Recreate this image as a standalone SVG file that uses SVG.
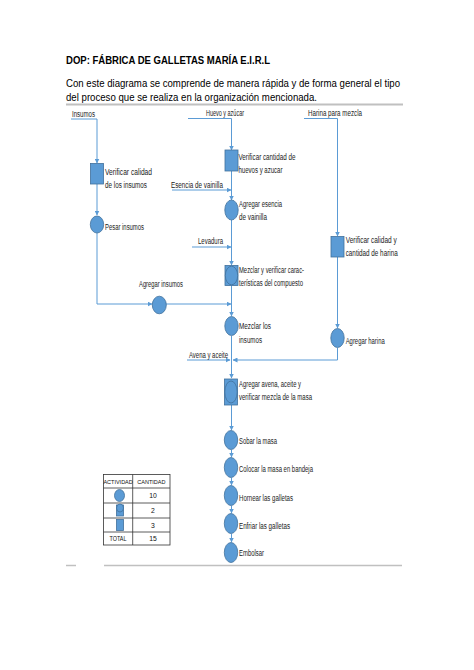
<svg xmlns="http://www.w3.org/2000/svg" width="474" height="670" viewBox="0 0 474 670">
<style>
.t{font-family:"Liberation Sans",Arial,sans-serif;fill:#000}
.l{font-family:"Liberation Sans",Arial,sans-serif;font-size:8.3px;fill:#1a1a1a}
.c{fill:none;stroke:#5b9bd5;stroke-width:1}
.op{fill:#5b9bd5;stroke:#41719c;stroke-width:0.8}
.tb{fill:none;stroke:#333;stroke-width:0.8}
.th{font-family:"Liberation Sans",Arial,sans-serif;font-size:6.8px;fill:#111}
.hd{font-family:"Liberation Sans",Arial,sans-serif;font-size:5.5px;fill:#111}
</style>
<defs>
<marker id="ar" markerUnits="userSpaceOnUse" markerWidth="5" markerHeight="5" refX="4.5" refY="2.5" orient="auto">
<path d="M0,0 L5,2.5 L0,5 z" fill="#5b9bd5"/>
</marker>
</defs>
<rect width="474" height="670" fill="#fff"/>
<text class="t" x="66" y="64" font-size="11.5" font-weight="bold" textLength="204" lengthAdjust="spacingAndGlyphs">DOP: FÁBRICA DE GALLETAS MARÍA E.I.R.L</text>
<text class="t" x="66" y="87" font-size="11" textLength="334" lengthAdjust="spacingAndGlyphs">Con este diagrama se comprende de manera rápida y de forma general el tipo</text>
<text class="t" x="66" y="100.5" font-size="11" textLength="251" lengthAdjust="spacingAndGlyphs">del proceso que se realiza en la organización mencionada.</text>
<line x1="66" y1="104.5" x2="403" y2="104.5" stroke="#c0c0c0" stroke-width="2"/>
<line x1="104" y1="565.5" x2="402" y2="565.5" stroke="#c0c0c0" stroke-width="1.5"/>
<line x1="66" y1="565.5" x2="76" y2="565.5" stroke="#c0c0c0" stroke-width="1.5"/>

<g id="connectors">
<path class="c" d="M71,119 H97 V163" marker-end="url(#ar)"/>
<path class="c" d="M97,184 V215" marker-end="url(#ar)"/>
<path class="c" d="M97,233 V304 H152" marker-end="url(#ar)"/>
<path class="c" d="M166,304 H231" marker-end="url(#ar)"/>
<path class="c" d="M188,118.5 H231.5 V150" marker-end="url(#ar)"/>
<path class="c" d="M231.5,171 V200" marker-end="url(#ar)"/>
<path class="c" d="M172,190 H231" marker-end="url(#ar)"/>
<path class="c" d="M231.5,220 V265" marker-end="url(#ar)"/>
<path class="c" d="M192,247 H231" marker-end="url(#ar)"/>
<path class="c" d="M231.5,286 V316" marker-end="url(#ar)"/>
<path class="c" d="M231.5,336 V378" marker-end="url(#ar)"/>
<path class="c" d="M187,360 H230" marker-end="url(#ar)"/>
<path class="c" d="M304,118.5 H337.5 V236" marker-end="url(#ar)"/>
<path class="c" d="M337.5,257 V328" marker-end="url(#ar)"/>
<path class="c" d="M337.5,348 V360 H233" marker-end="url(#ar)"/>
<path class="c" d="M231.5,405 V430" marker-end="url(#ar)"/>
<path class="c" d="M231.5,450 V457" marker-end="url(#ar)"/>
<path class="c" d="M231.5,478 V485" marker-end="url(#ar)"/>
<path class="c" d="M231.5,506 V513" marker-end="url(#ar)"/>
<path class="c" d="M231.5,534 V542" marker-end="url(#ar)"/>
</g>

<g id="in-insumos"><text class="l" x="72" y="117" textLength="23" lengthAdjust="spacingAndGlyphs">Insumos</text></g>
<g id="in-huevo"><text class="l" x="206" y="116" textLength="38" lengthAdjust="spacingAndGlyphs">Huevo y azúcar</text></g>
<g id="in-harina"><text class="l" x="308" y="116" textLength="54" lengthAdjust="spacingAndGlyphs">Harina para mezcla</text></g>
<g id="in-esencia"><text class="l" x="171" y="188" textLength="52" lengthAdjust="spacingAndGlyphs">Esencia de vainilla</text></g>
<g id="in-levadura"><text class="l" x="198" y="244" textLength="25" lengthAdjust="spacingAndGlyphs">Levadura</text></g>
<g id="in-avena"><text class="l" x="189" y="357.5" textLength="39" lengthAdjust="spacingAndGlyphs">Avena y aceite</text></g>

<g id="n1"><rect class="op" x="90.5" y="163.5" width="13" height="20.5"/>
<text class="l" x="105" y="175" textLength="47" lengthAdjust="spacingAndGlyphs">Verificar calidad</text>
<text class="l" x="105" y="187.5" textLength="42" lengthAdjust="spacingAndGlyphs">de los insumos</text></g>
<g id="n2"><ellipse class="op" cx="97" cy="224.5" rx="6.7" ry="8.5"/>
<text class="l" x="105" y="229.5" textLength="39" lengthAdjust="spacingAndGlyphs">Pesar insumos</text></g>
<g id="n3"><ellipse class="op" cx="159.3" cy="305" rx="7" ry="8.8"/>
<text class="l" x="139" y="287" textLength="44" lengthAdjust="spacingAndGlyphs">Agregar insumos</text></g>
<g id="n4"><rect class="op" x="225" y="150" width="13" height="21"/>
<text class="l" x="238.5" y="160" textLength="57" lengthAdjust="spacingAndGlyphs">Verificar cantidad de</text>
<text class="l" x="238.5" y="173" textLength="44" lengthAdjust="spacingAndGlyphs">huevos y azucar</text></g>
<g id="n5"><ellipse class="op" cx="231.5" cy="210" rx="6.7" ry="10"/>
<text class="l" x="239" y="207" textLength="43" lengthAdjust="spacingAndGlyphs">Agregar esencia</text>
<text class="l" x="239" y="220" textLength="28" lengthAdjust="spacingAndGlyphs">de vainilla</text></g>
<g id="n6"><rect class="op" x="225" y="265.5" width="13" height="20"/><ellipse class="op" cx="231.5" cy="275.5" rx="6.2" ry="9.3"/>
<text class="l" x="239" y="273" textLength="65" lengthAdjust="spacingAndGlyphs">Mezclar y verificar carac-</text>
<text class="l" x="239" y="286" textLength="64" lengthAdjust="spacingAndGlyphs">terísticas del compuesto</text></g>
<g id="n7"><ellipse class="op" cx="231.5" cy="326" rx="6.7" ry="9.5"/>
<text class="l" x="239" y="329" textLength="32" lengthAdjust="spacingAndGlyphs">Mezclar  los</text>
<text class="l" x="239" y="343" textLength="23" lengthAdjust="spacingAndGlyphs">insumos</text></g>
<g id="n8"><rect class="op" x="331" y="236.5" width="13" height="20.5"/>
<text class="l" x="345.7" y="243" textLength="51" lengthAdjust="spacingAndGlyphs">Verificar calidad y</text>
<text class="l" x="345.7" y="256" textLength="52" lengthAdjust="spacingAndGlyphs">cantidad de harina</text></g>
<g id="n9"><ellipse class="op" cx="337.5" cy="338" rx="6.7" ry="9.5"/>
<text class="l" x="345.7" y="343.5" textLength="39" lengthAdjust="spacingAndGlyphs">Agregar harina</text></g>
<g id="n10"><rect class="op" x="224.5" y="379" width="13" height="26"/><ellipse class="op" cx="231" cy="392" rx="6.2" ry="11"/>
<text class="l" x="239" y="387" textLength="62" lengthAdjust="spacingAndGlyphs">Agregar avena, aceite y</text>
<text class="l" x="239" y="400" textLength="73" lengthAdjust="spacingAndGlyphs">verificar mezcla de la masa</text></g>
<g id="n11"><ellipse class="op" cx="231" cy="440" rx="6.7" ry="9.5"/>
<text class="l" x="239" y="443.5" textLength="38" lengthAdjust="spacingAndGlyphs">Sobar la masa</text></g>
<g id="n12"><ellipse class="op" cx="231" cy="467.5" rx="6.7" ry="10"/>
<text class="l" x="239" y="472" textLength="74" lengthAdjust="spacingAndGlyphs">Colocar la masa en bandeja</text></g>
<g id="n13"><ellipse class="op" cx="231" cy="495.5" rx="6.7" ry="10"/>
<text class="l" x="239" y="500.5" textLength="54" lengthAdjust="spacingAndGlyphs">Hornear las galletas</text></g>
<g id="n14"><ellipse class="op" cx="231" cy="523.5" rx="6.7" ry="10"/>
<text class="l" x="239" y="528.5" textLength="51" lengthAdjust="spacingAndGlyphs">Enfriar las galletas</text></g>
<g id="n15"><ellipse class="op" cx="231" cy="552.5" rx="6.7" ry="10"/>
<text class="l" x="239" y="556" textLength="25" lengthAdjust="spacingAndGlyphs">Embolsar</text></g>

<g id="legend">
<rect class="tb" x="103.5" y="474.5" width="66.5" height="70.5"/>
<line class="tb" x1="132.7" y1="474.5" x2="132.7" y2="545"/>
<line class="tb" x1="103.5" y1="488" x2="170" y2="488"/>
<line class="tb" x1="103.5" y1="503" x2="170" y2="503"/>
<line class="tb" x1="103.5" y1="518" x2="170" y2="518"/>
<line class="tb" x1="103.5" y1="532" x2="170" y2="532"/>
<text class="hd" x="118.1" y="483.5" text-anchor="middle">ACTIVIDAD</text>
<text class="hd" x="151.4" y="483.5" text-anchor="middle">CANTIDAD</text>
<ellipse class="op" cx="119.5" cy="495.5" rx="5" ry="6"/>
<rect class="op" x="116.5" y="505" width="7" height="11"/><ellipse class="op" cx="120" cy="508" rx="3.5" ry="4"/>
<rect class="op" x="116.5" y="519.5" width="7" height="11"/>
<text class="th" x="153" y="498" text-anchor="middle">10</text>
<text class="th" x="153" y="513" text-anchor="middle">2</text>
<text class="th" x="153" y="528" text-anchor="middle">3</text>
<text class="th" x="118" y="541" text-anchor="middle" textLength="17" lengthAdjust="spacingAndGlyphs">TOTAL</text>
<text class="th" x="153" y="541" text-anchor="middle">15</text>
</g>
</svg>
